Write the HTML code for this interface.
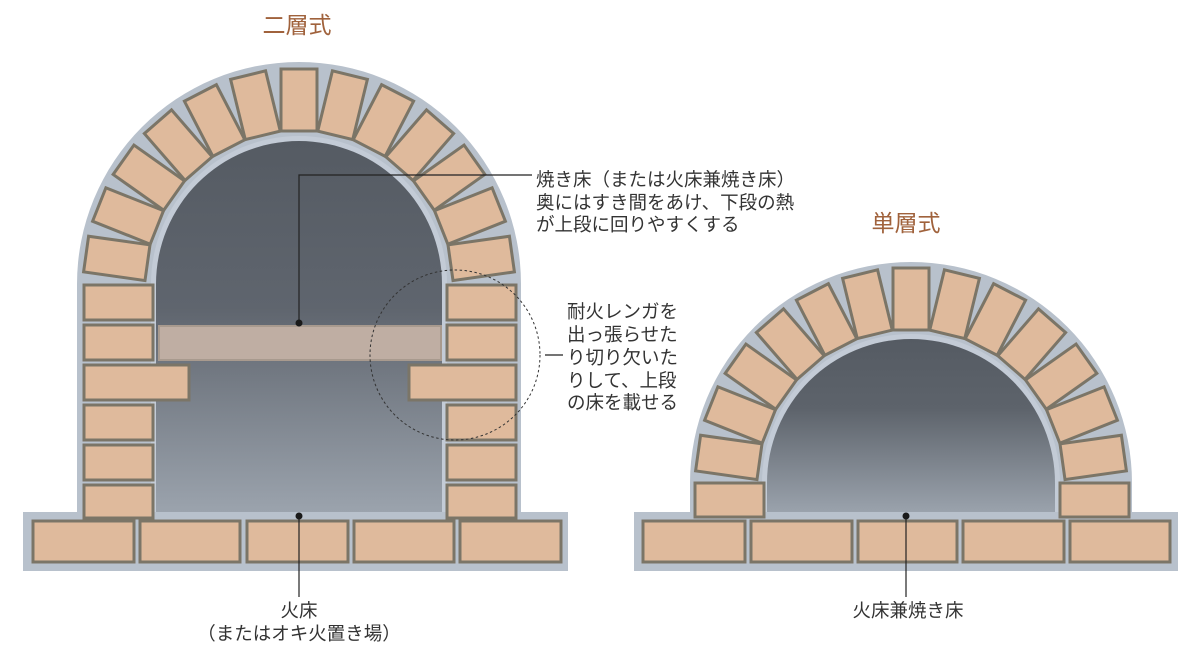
<!DOCTYPE html>
<html><head><meta charset="utf-8"><style>
html,body{margin:0;padding:0;background:#fff;}
svg{display:block}
text{font-family:"Liberation Sans","Noto Sans CJK JP",sans-serif;fill:#333}
.b{fill:#dfba9c;stroke:#7b7567;stroke-width:3}
</style></head><body>
<svg width="1200" height="652" viewBox="0 0 1200 652" xmlns="http://www.w3.org/2000/svg">
<defs>
<linearGradient id="g" x1="0" y1="0" x2="0" y2="1">
<stop offset="0" stop-color="#555b63"/><stop offset="0.45" stop-color="#5f656e"/><stop offset="1" stop-color="#9ba3ad"/>
</linearGradient>
<linearGradient id="g2" x1="0" y1="0" x2="0" y2="1">
<stop offset="0" stop-color="#555b63"/><stop offset="0.4" stop-color="#5d636b"/><stop offset="1" stop-color="#9aa2ac"/>
</linearGradient>
</defs>
<!-- LEFT OVEN -->
<path d="M23,512 H77 V284 A222,222 0 0 1 521,284 V512 H568 V571 H23 Z" fill="#b8c1cc"/>
<path d="M151,512 V284 A148,148 0 0 1 447,284 V512 Z" fill="#c3cbd6"/>
<path d="M156,512 V284 A143,143 0 0 1 442,284 V512 Z" fill="url(#g)"/>
<g class="b">
<rect x="281" y="69" width="36" height="62" transform="rotate(-82 299 284)"/>
<rect x="281" y="69" width="36" height="62" transform="rotate(-68.3 299 284)"/>
<rect x="281" y="69" width="36" height="62" transform="rotate(-54.7 299 284)"/>
<rect x="281" y="69" width="36" height="62" transform="rotate(-41 299 284)"/>
<rect x="281" y="69" width="36" height="62" transform="rotate(-27.3 299 284)"/>
<rect x="281" y="69" width="36" height="62" transform="rotate(-13.7 299 284)"/>
<rect x="281" y="69" width="36" height="62"/>
<rect x="281" y="69" width="36" height="62" transform="rotate(13.7 299 284)"/>
<rect x="281" y="69" width="36" height="62" transform="rotate(27.3 299 284)"/>
<rect x="281" y="69" width="36" height="62" transform="rotate(41 299 284)"/>
<rect x="281" y="69" width="36" height="62" transform="rotate(54.7 299 284)"/>
<rect x="281" y="69" width="36" height="62" transform="rotate(68.3 299 284)"/>
<rect x="281" y="69" width="36" height="62" transform="rotate(82 299 284)"/>
<!-- columns -->
<rect x="84" y="285" width="69" height="35"/>
<rect x="84" y="325" width="69" height="35"/>
<rect x="84" y="365" width="105" height="35"/>
<rect x="84" y="405" width="69" height="35"/>
<rect x="84" y="445" width="69" height="35"/>
<rect x="84" y="485" width="69" height="33"/>
<rect x="447" y="285" width="69" height="35"/>
<rect x="447" y="325" width="69" height="35"/>
<rect x="409" y="365" width="107" height="35"/>
<rect x="447" y="405" width="69" height="35"/>
<rect x="447" y="445" width="69" height="35"/>
<rect x="447" y="485" width="69" height="33"/>
<!-- slab -->
<rect x="33" y="521" width="101" height="41"/>
<rect x="140" y="521" width="100" height="41"/>
<rect x="247" y="521" width="101" height="41"/>
<rect x="354" y="521" width="100" height="41"/>
<rect x="460" y="521" width="101" height="41"/>
</g>
<rect x="159" y="326" width="282" height="34" fill="#bfaea3" stroke="#a89a8e" stroke-width="2"/>
<!-- dashed circle -->
<circle cx="455" cy="355" r="85" fill="none" stroke="#333" stroke-width="1" stroke-dasharray="2.5,2.5"/>
<!-- leaders -->
<polyline points="299,323 299,175 532,175" fill="none" stroke="#222" stroke-width="1.2"/>
<circle cx="299" cy="323" r="3.5" fill="#1a1a1a"/>
<line x1="299" y1="516" x2="299" y2="597" stroke="#222" stroke-width="1.2"/>
<circle cx="299" cy="516" r="3.5" fill="#1a1a1a"/>
<line x1="545" y1="355" x2="563" y2="355" stroke="#222" stroke-width="1.2"/>
<!-- RIGHT OVEN -->
<path d="M634,512 H690 V483 A221,221 0 0 1 1132,483 V512 H1178 V571 H634 Z" fill="#b8c1cc"/>
<path d="M762,512 V483 A149,149 0 0 1 1060,483 V512 Z" fill="#c3cbd6"/>
<path d="M767,512 V483 A144,144 0 0 1 1055,483 V512 Z" fill="url(#g2)"/>
<g class="b">
<rect x="893" y="268" width="36" height="62" transform="rotate(-82 911 483)"/>
<rect x="893" y="268" width="36" height="62" transform="rotate(-68.3 911 483)"/>
<rect x="893" y="268" width="36" height="62" transform="rotate(-54.7 911 483)"/>
<rect x="893" y="268" width="36" height="62" transform="rotate(-41 911 483)"/>
<rect x="893" y="268" width="36" height="62" transform="rotate(-27.3 911 483)"/>
<rect x="893" y="268" width="36" height="62" transform="rotate(-13.7 911 483)"/>
<rect x="893" y="268" width="36" height="62"/>
<rect x="893" y="268" width="36" height="62" transform="rotate(13.7 911 483)"/>
<rect x="893" y="268" width="36" height="62" transform="rotate(27.3 911 483)"/>
<rect x="893" y="268" width="36" height="62" transform="rotate(41 911 483)"/>
<rect x="893" y="268" width="36" height="62" transform="rotate(54.7 911 483)"/>
<rect x="893" y="268" width="36" height="62" transform="rotate(68.3 911 483)"/>
<rect x="893" y="268" width="36" height="62" transform="rotate(82 911 483)"/>
<rect x="695" y="483" width="69" height="34"/>
<rect x="1060" y="483" width="69" height="34"/>
<rect x="643" y="521" width="102" height="41"/>
<rect x="751" y="521" width="101" height="41"/>
<rect x="858" y="521" width="99" height="41"/>
<rect x="963" y="521" width="101" height="41"/>
<rect x="1070" y="521" width="100" height="41"/>
</g>
<line x1="906" y1="516" x2="906" y2="597" stroke="#222" stroke-width="1.2"/>
<circle cx="906" cy="516" r="3.5" fill="#1a1a1a"/>
<!-- TEXT -->
<text x="297" y="33" font-size="23" text-anchor="middle" style="fill:#a0623c">二層式</text>
<text x="906" y="231" font-size="23" text-anchor="middle" style="fill:#a0623c">単層式</text>
<text font-size="18.5">
<tspan x="536" y="186">焼き床（または火床兼焼き床）</tspan>
<tspan x="536" y="209">奥にはすき間をあけ、下段の熱</tspan>
<tspan x="536" y="231">が上段に回りやすくする</tspan>
</text>
<text font-size="18.5">
<tspan x="567" y="318">耐火レンガを</tspan>
<tspan x="567" y="341">出っ張らせた</tspan>
<tspan x="567" y="364">り切り欠いた</tspan>
<tspan x="567" y="387">りして、上段</tspan>
<tspan x="567" y="409">の床を載せる</tspan>
</text>
<text x="299" y="617" font-size="18.5" text-anchor="middle">火床</text>
<text x="299" y="640" font-size="18.5" text-anchor="middle">（またはオキ火置き場）</text>
<text x="908" y="617" font-size="18.5" text-anchor="middle">火床兼焼き床</text>
</svg>
</body></html>
